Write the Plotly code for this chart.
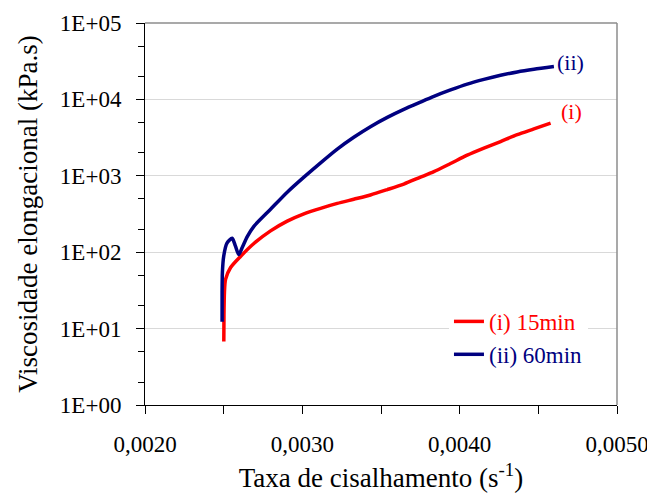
import plotly.graph_objects as go

# Series (i) 15 min
rate_15 = [0.002501, 0.002502, 0.002505, 0.002512, 0.002544, 0.002607, 0.002692, 0.002798,
           0.002904, 0.003010, 0.003116, 0.003222, 0.003327, 0.003433, 0.003540, 0.003645,
           0.003751, 0.003836, 0.003942, 0.004048, 0.004154, 0.004260, 0.004366, 0.004472,
           0.004578]
visc_15 = [6.8, 15, 30, 44, 63, 88, 130, 190, 255, 318, 375, 435, 493, 561, 660, 780,
           960, 1135, 1450, 1860, 2300, 2810, 3450, 4110, 4900]

# Series (ii) 60 min
rate_60 = [0.002490, 0.002490, 0.002492, 0.002500, 0.002521, 0.002554, 0.002575, 0.002596,
           0.002618, 0.002650, 0.002692, 0.002798, 0.002904, 0.003010, 0.003116, 0.003222,
           0.003327, 0.003433, 0.003540, 0.003645, 0.003751, 0.003836, 0.003942, 0.004048,
           0.004154, 0.004260, 0.004366, 0.004472, 0.004599]
visc_60 = [12.3, 30, 55, 88, 131, 152, 120, 93, 115, 160, 218, 365, 610, 960, 1480, 2240,
           3200, 4400, 5820, 7410, 9230, 10960, 13300, 15850, 18300, 20700, 22900, 24800, 26900]

y_tickvals = [1, 10, 100, 1000, 10000, 100000]
y_ticktext = ["1E+00", "1E+01", "1E+02", "1E+03", "1E+04", "1E+05"]
x_tickvals = [0.002, 0.003, 0.004, 0.005]
x_ticktext = ["0,0020", "0,0030", "0,0040", "0,0050"]

RED = "#FF0000"
NAVY = "#000080"
FONT = "Liberation Serif"

fig = go.Figure()
fig.add_trace(go.Scatter(x=rate_15, y=visc_15, mode="lines",
                         line=dict(color=RED, width=3.5, shape="spline", smoothing=0.7),
                         name=f"<span style='color:{RED}'>(i) 15min</span>"))
fig.add_trace(go.Scatter(x=rate_60, y=visc_60, mode="lines",
                         line=dict(color=NAVY, width=3.5, shape="spline", smoothing=0.7),
                         name=f"<span style='color:{NAVY}'>(ii) 60min</span>"))

fig.update_layout(
    width=655, height=493,
    margin=dict(l=136.5, r=46, t=15, b=96, autoexpand=False),
    paper_bgcolor="white", plot_bgcolor="white",
    font=dict(family=FONT, size=22.5, color="black"),
    showlegend=True,
    legend=dict(x=0.644, y=0.275, xanchor="left", yanchor="top",
                bgcolor="white", borderwidth=0,
                font=dict(family=FONT, size=23)),
    xaxis=dict(range=[0.002, 0.005], tickvals=x_tickvals, ticktext=x_ticktext,
               ticks="outside", ticklen=8, tickcolor="black", showline=True,
               linecolor="black", linewidth=1, showgrid=False, zeroline=False,
               minor=dict(ticks="outside", ticklen=8, tickcolor="black", dtick=0.0005),
               title=dict(text="Taxa de cisalhamento (s<sup>-1</sup>)", standoff=12),
               tickfont=dict(family=FONT, size=23), ticklabelstandoff=10,
               automargin=False),
    yaxis=dict(type="log", range=[0, 5], tickvals=y_tickvals, ticktext=y_ticktext,
               ticks="outside", ticklen=8, tickcolor="black", showline=True,
               linecolor="black", linewidth=1, showgrid=True, gridcolor="#D9D9D9",
               gridwidth=1, zeroline=False,
               minor=dict(ticks="outside", ticklen=6, tickcolor="black", showgrid=False),
               title=dict(text="Viscosidade elongacional (kPa.s)", standoff=14),
               tickfont=dict(family=FONT, size=23), ticklabelstandoff=10,
               automargin=False),
    shapes=[
        dict(type="line", xref="paper", yref="paper", x0=0, x1=1, y0=1, y1=1,
             line=dict(color="#8C8C8C", width=1.5)),
        dict(type="line", xref="paper", yref="paper", x0=1, x1=1, y0=0, y1=1,
             line=dict(color="#8C8C8C", width=1.5)),
    ],
    annotations=[
        dict(x=0.004707, y=4.48, xref="x", yref="y", text="(ii)", showarrow=False,
             font=dict(color=NAVY, size=22, family=FONT)),
        dict(x=0.004712, y=3.836, xref="x", yref="y", text="(i)", showarrow=False,
             font=dict(color=RED, size=22, family=FONT)),
    ],
)

fig.write_html("out.html")
